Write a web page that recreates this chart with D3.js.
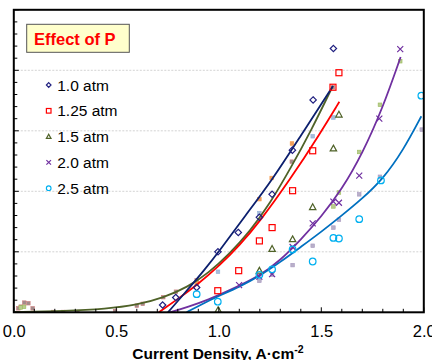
<html>
<head>
<style>
  body { margin: 0; background: #fff; }
  text { font-family: Arial, "Liberation Sans", sans-serif; }
</style>
</head>
<body>
<script src="https://cdnjs.cloudflare.com/ajax/libs/d3/7.8.5/d3.min.js"></script>
<script>
var width = 432, height = 360;
var margin = {left: 13.8, right: 8.2, top: 9.8, bottom: 47.7};

// measured points, [current density, loss]
var p10 = [[0.726,0.12],[0.79,0.245],[0.892,0.41],[0.996,1.0],[1.095,1.32],[1.198,1.57],[1.26,1.95],[1.359,2.68],[1.46,3.51],[1.559,4.36]];
var p125 = [[0.995,0.357],[1.097,0.688],[1.198,1.18],[1.26,1.40],[1.36,2.01],[1.458,2.67],[1.557,3.72],[1.586,3.96]];
var p15 = [[0.997,0.04],[1.198,0.69],[1.26,1.05],[1.36,1.21],[1.458,1.74],[1.559,2.71],[1.586,3.27]];
var p20 = [[1.099,0.45],[1.198,0.59],[1.26,0.63],[1.36,1.08],[1.458,1.47],[1.559,1.83],[1.586,1.81],[1.685,2.26],[1.783,3.2],[1.885,4.35]];
var p25 = [[0.892,0.30],[0.995,0.175],[1.198,0.62],[1.26,0.71],[1.36,1.04],[1.458,0.84],[1.559,1.23],[1.586,1.22],[1.685,1.54],[1.791,2.18],[1.988,3.58]];

// fitted curves
var fit10 = [[0.752,0],[0.85,0.38],[0.93,0.7],[1.0,1.0],[1.13,1.6],[1.263,2.2],[1.396,2.9],[1.557,3.74]];
var fit125 = [[0.708,0],[0.8,0.22],[0.894,0.45],[1.006,0.78],[1.1,1.1],[1.2,1.5],[1.347,2.19],[1.493,2.95],[1.588,3.48]];
var fit15 = [[0,0.005],[0.25,0.02],[0.45,0.055],[0.6,0.12],[0.73,0.24],[0.85,0.42],[0.95,0.65],[1.05,0.96],[1.15,1.33],[1.25,1.8],[1.35,2.38],[1.45,3.0],[1.556,3.74]];
var fit20 = [[0.762,0],[0.85,0.09],[0.95,0.21],[1.05,0.36],[1.2,0.6],[1.3,0.86],[1.4,1.2],[1.5,1.58],[1.6,2.03],[1.7,2.62],[1.8,3.38],[1.887,4.22]];
var fit25 = [[0.843,0],[0.92,0.14],[1.0,0.27],[1.1,0.42],[1.2,0.6],[1.3,0.83],[1.4,1.08],[1.5,1.33],[1.6,1.6],[1.7,1.88],[1.8,2.2],[1.9,2.68],[1.988,3.24]];

// faint background points (not in legend)
var rose = [[0.022,0.066],[0.034,0.093],[0.051,0.16],[0.071,0.15],[0.092,0.066],[0.193,0.005],[0.241,0.005],[0.31,0.005],[0.494,0.02],[0.6,0.11],[0.629,0.14],[0.729,0.25],[0.791,0.34],[0.892,0.53],[1.356,2.49],[1.557,3.72]];
var orange = [[0.892,0.48],[1.198,1.87],[1.258,2.22],[1.357,2.79]];
var ltblue = [[0.996,0.67],[1.198,1.64],[1.458,2.91],[1.559,3.22]];
var ltgreen = [[0.034,0.08],[0.05,0.09],[1.559,1.75],[1.586,1.98],[1.685,2.65],[1.786,3.43],[1.885,4.15]];
var lavender = [[1.198,0.52],[1.26,0.62],[1.36,0.78],[1.458,1.1],[1.559,1.4],[1.586,1.53],[1.685,1.95],[1.786,2.24],[1.99,3.02]];

var legendLabels = ["1.0 atm", "1.25 atm", "1.5 atm", "2.0 atm", "2.5 atm"];
var xTicks = [0, 0.5, 1.0, 1.5, 2.0];

var svg = d3.select("body").append("svg")
    .attr("width", width)
    .attr("height", height);

var x = d3.scaleLinear().domain([0, 2]).range([margin.left, width - margin.right]);
var y = d3.scaleLinear().domain([0, 5]).range([height - margin.bottom, margin.top]);

svg.append("clipPath").attr("id", "clip")
    .append("rect")
    .attr("x", x(0)).attr("y", y(5))
    .attr("width", x(2) - x(0)).attr("height", y(0) - y(5));

// grid
svg.append("g").selectAll("line")
    .data([1, 2, 3, 4])
    .enter().append("line")
    .attr("x1", x(0)).attr("x2", x(2))
    .attr("y1", d => y(d)).attr("y2", d => y(d))
    .attr("stroke", "#c8c8c8")
    .attr("stroke-width", 0.8)
    .attr("stroke-dasharray", "2,1.5");

var plot = svg.append("g").attr("clip-path", "url(#clip)");

// faint squares
var faint = [
    {data: rose, fill: "#a08c8c", stroke: "#d08080"},
    {data: orange, fill: "#f0a060", stroke: "#f79646"},
    {data: ltblue, fill: "#a8bcd8", stroke: "#8fb0d8"},
    {data: ltgreen, fill: "#b8cc90", stroke: "#9bbb59"},
    {data: lavender, fill: "#b8b0c8", stroke: "#a898c0"}
];
faint.forEach(function (s) {
    plot.append("g").selectAll("rect")
        .data(s.data)
        .enter().append("rect")
        .attr("x", d => x(d[0]) - 1.8)
        .attr("y", d => y(d[1]) - 1.8)
        .attr("width", 3.6).attr("height", 3.6)
        .attr("fill", s.fill)
        .attr("stroke", s.stroke)
        .attr("stroke-width", 0.6);
});

var line = d3.line()
    .x(d => x(d[0]))
    .y(d => y(d[1]))
    .curve(d3.curveBasis);

var fits = [
    {data: fit15, color: "#4f6228"},
    {data: fit125, color: "#ff0000"},
    {data: fit10, color: "#0c1f6e"},
    {data: fit20, color: "#7030a0"},
    {data: fit25, color: "#0070c0"}
];
fits.forEach(function (f) {
    plot.append("path")
        .datum(f.data)
        .attr("d", line)
        .attr("fill", "none")
        .attr("stroke", f.color)
        .attr("stroke-width", 1.8);
});

// marker shapes
function marker(g, kind, color, s) {
    if (kind == "diamond") {
        g.append("path")
            .attr("d", "M0," + (-s) + "L" + s + ",0L0," + s + "L" + (-s) + ",0Z")
            .attr("fill", "none").attr("stroke", color).attr("stroke-width", 1.2);
    } else if (kind == "square") {
        g.append("rect")
            .attr("x", -s).attr("y", -s).attr("width", 2 * s).attr("height", 2 * s)
            .attr("fill", "none").attr("stroke", color).attr("stroke-width", 1.2);
    } else if (kind == "triangle") {
        g.append("path")
            .attr("d", "M0," + (-s) + "L" + s + "," + (s * 0.8) + "L" + (-s) + "," + (s * 0.8) + "Z")
            .attr("fill", "none").attr("stroke", color).attr("stroke-width", 1.2);
    } else if (kind == "cross") {
        g.append("path")
            .attr("d", "M" + (-s) + "," + (-s) + "L" + s + "," + s + "M" + s + "," + (-s) + "L" + (-s) + "," + s)
            .attr("stroke", color).attr("stroke-width", 1.2);
    } else {
        g.append("circle").attr("r", s)
            .attr("fill", "none").attr("stroke", color).attr("stroke-width", 1.2);
    }
}

var series = [
    {data: p10, kind: "diamond", color: "#202080", size: 3.2},
    {data: p125, kind: "square", color: "#ff0000", size: 3},
    {data: p15, kind: "triangle", color: "#4f6228", size: 3.2},
    {data: p20, kind: "cross", color: "#7030a0", size: 3},
    {data: p25, kind: "circle", color: "#00b0f0", size: 3.3}
];
series.forEach(function (s) {
    plot.append("g").selectAll("g")
        .data(s.data)
        .enter().append("g")
        .attr("transform", d => "translate(" + x(d[0]) + "," + y(d[1]) + ")")
        .each(function () { marker(d3.select(this), s.kind, s.color, s.size); });
});

// ticks, inside
var yMinor = d3.range(0, 5.01, 0.2);
svg.append("g").selectAll("line")
    .data(yMinor)
    .enter().append("line")
    .attr("x1", x(0)).attr("x2", (d, i) => x(0) + (i % 5 == 0 ? 5 : 3.5))
    .attr("y1", d => y(d)).attr("y2", d => y(d))
    .attr("stroke", "#000").attr("stroke-width", 1);

var xMinor = d3.range(0, 2.01, 0.1);
svg.append("g").selectAll("line")
    .data(xMinor)
    .enter().append("line")
    .attr("x1", d => x(d)).attr("x2", d => x(d))
    .attr("y1", y(0)).attr("y2", (d, i) => y(0) - (i % 5 == 0 ? 5 : 3.5))
    .attr("stroke", "#000").attr("stroke-width", 1);

// frame
svg.append("rect")
    .attr("x", x(0)).attr("y", y(5))
    .attr("width", x(2) - x(0)).attr("height", y(0) - y(5))
    .attr("fill", "none").attr("stroke", "#000").attr("stroke-width", 2);

// x axis labels
var xAxis = d3.axisBottom(x).tickValues(xTicks).tickFormat(d3.format(".1f")).tickSize(0).tickPadding(13);
svg.append("g")
    .attr("transform", "translate(0," + y(0) + ")")
    .call(xAxis)
    .call(g => g.select(".domain").remove())
    .selectAll("text")
    .attr("font-size", 16.5)
    .attr("fill", "#000")
    .style("font-family", "Arial, 'Liberation Sans', sans-serif");

var title = svg.append("text")
    .attr("x", 218).attr("y", 358.5)
    .attr("text-anchor", "middle")
    .attr("font-size", 15.5)
    .attr("font-weight", "bold")
    .text("Current Density, A\u00b7cm");
title.append("tspan").attr("dy", -6).attr("font-size", 10.5).text("-2");

// legend
var box = svg.append("g");
box.append("rect")
    .attr("x", 26.7).attr("y", 24.3)
    .attr("width", 102.6).attr("height", 28)
    .attr("fill", "#ffffcc")
    .attr("stroke", "#555").attr("stroke-width", 1);
box.append("text")
    .attr("x", 34).attr("y", 44.5)
    .attr("font-size", 16.5)
    .attr("font-weight", "bold")
    .attr("fill", "#ff0000")
    .text("Effect of P");

var leg = svg.append("g").selectAll("g")
    .data(series)
    .enter().append("g")
    .attr("transform", (d, i) => "translate(48.7," + (85 + i * 25.8) + ")");
leg.each(function (d) { marker(d3.select(this), d.kind, d.color, 2.3); });
leg.append("text")
    .attr("x", 8.5).attr("y", 5.5)
    .attr("font-size", 15.5)
    .attr("fill", "#000")
    .text((d, i) => legendLabels[i]);
</script>
</body>
</html>
